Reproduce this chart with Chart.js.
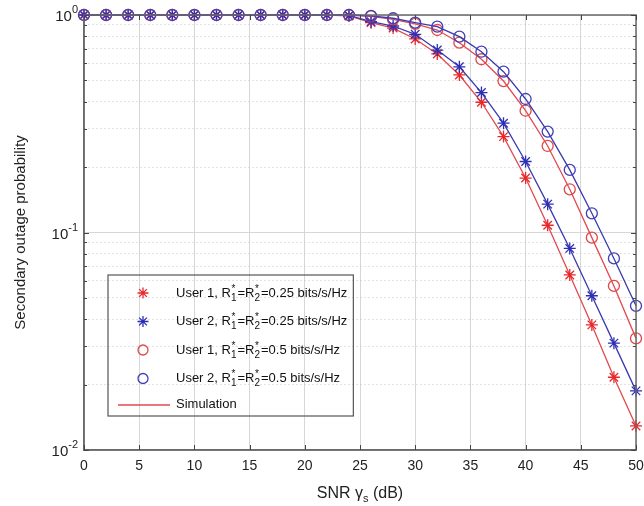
<!DOCTYPE html>
<html>
<head>
<meta charset="utf-8">
<script src="https://cdn.jsdelivr.net/npm/chart.js@4.4.1/dist/chart.umd.min.js"></script>
<style>
  html, body { margin: 0; padding: 0; background: #fff; }
  #wrap { width: 644px; height: 506px; }
</style>
</head>
<body>
<div id="wrap"><canvas id="outage-graph"></canvas></div>
<script>
const CTX = document.getElementById('outage-graph');

// SNR in dB (markers every 2 dB)
const snr = [0, 2, 4, 6, 8, 10, 12, 14, 16, 18, 20, 22, 24, 26, 28, 30, 32, 34, 36, 38, 40, 42, 44, 46, 48, 50];

// secondary outage probability
const user1Low = [1, 1, 1, 1, 1, 1, 1, 1, 1, 1, 1, 1, 0.99, 0.922, 0.871, 0.776, 0.662, 0.53, 0.397, 0.276, 0.178, 0.108, 0.0638, 0.0376, 0.0216, 0.0129];
const user2Low = [1, 1, 1, 1, 1, 1, 1, 1, 1, 1, 1, 1, 0.995, 0.932, 0.89, 0.815, 0.69, 0.578, 0.44, 0.318, 0.212, 0.135, 0.0845, 0.0512, 0.031, 0.0187];
const user1High = [1, 1, 1, 1, 1, 1, 1, 1, 1, 1, 1, 1, 1, 0.985, 0.955, 0.91, 0.853, 0.746, 0.626, 0.497, 0.363, 0.25, 0.158, 0.0947, 0.0568, 0.0326];
const user2High = [1, 1, 1, 1, 1, 1, 1, 1, 1, 1, 1, 1, 1, 0.99, 0.966, 0.922, 0.884, 0.795, 0.678, 0.549, 0.411, 0.291, 0.194, 0.1225, 0.076, 0.046];

const yDecades = [0.01, 0.1, 1];
const yTickLabels = [['10', '-2'], ['10', '-1'], ['10', '0']];
const xTicks = [0, 5, 10, 15, 20, 25, 30, 35, 40, 45, 50];

const RED = '#e8282c';
const RED_LINE = '#e04a50';
const BLUE = '#2f2fb4';
const BLUE_LINE = '#3a3ab0';
const FONT = '"Liberation Sans", Arial, Helvetica, sans-serif';

const legendRows = [
  { marker: 'star', color: RED, user: '1', rate: '0.25' },
  { marker: 'star', color: BLUE, user: '2', rate: '0.25' },
  { marker: 'circle', color: '#e04848', user: '1', rate: '0.5' },
  { marker: 'circle', color: '#4040b8', user: '2', rate: '0.5' }
];

function pts(arr) {
  return snr.map((x, i) => ({ x: x, y: arr[i] }));
}

function isDecade(v) {
  const l = Math.log10(v);
  return Math.abs(l - Math.round(l)) < 1e-9;
}

function drawStar(c, x, y, r, color) {
  c.save();
  c.strokeStyle = color;
  c.lineWidth = 1.3;
  c.beginPath();
  for (let k = 0; k < 4; k++) {
    const a = k * Math.PI / 4;
    c.moveTo(x - r * Math.cos(a), y - r * Math.sin(a));
    c.lineTo(x + r * Math.cos(a), y + r * Math.sin(a));
  }
  c.stroke();
  c.restore();
}

function drawCircle(c, x, y, r, color) {
  c.save();
  c.strokeStyle = color;
  c.lineWidth = 1.3;
  c.beginPath();
  c.arc(x, y, r, 0, Math.PI * 2);
  c.stroke();
  c.restore();
}

// text pieces: [string, kind] kind = n (normal) or s (subscript with * above)
function drawRich(c, x, y, parts, size) {
  let cx = x;
  const small = Math.round(size * 0.75);
  parts.forEach(p => {
    if (p[1] === 'n') {
      c.font = size + 'px ' + FONT;
      c.fillText(p[0], cx, y);
      cx += c.measureText(p[0]).width;
    } else {
      c.font = small + 'px ' + FONT;
      c.fillText(p[0], cx, y + size * 0.38);
      c.fillText('*', cx + 0.5, y - size * 0.3);
      cx += c.measureText(p[0]).width + 1;
    }
  });
  return cx - x;
}

const matlabLook = {
  id: 'matlabLook',
  afterDraw(chart) {
    const c = chart.ctx;
    const a = chart.chartArea;
    const xs = chart.scales.x;
    const ys = chart.scales.y;

    c.save();
    // frame
    c.strokeStyle = '#6a6a6a';
    c.lineWidth = 1.5;
    c.strokeRect(a.left, a.top, a.right - a.left, a.bottom - a.top);

    // inward ticks
    c.lineWidth = 1;
    c.strokeStyle = '#444';
    c.beginPath();
    xTicks.forEach(v => {
      const px = Math.round(xs.getPixelForValue(v)) + 0.5;
      c.moveTo(px, a.bottom); c.lineTo(px, a.bottom - 5);
      c.moveTo(px, a.top); c.lineTo(px, a.top + 5);
    });
    ys.ticks.forEach(t => {
      const py = Math.round(ys.getPixelForValue(t.value)) + 0.5;
      const len = isDecade(t.value) ? 5 : 3;
      c.moveTo(a.left, py); c.lineTo(a.left + len, py);
      c.moveTo(a.right, py); c.lineTo(a.right - len, py);
    });
    c.stroke();

    // y tick labels with superscript exponent
    c.fillStyle = '#222';
    c.textBaseline = 'middle';
    yDecades.forEach((v, i) => {
      const py = ys.getPixelForValue(v);
      const base = yTickLabels[i][0];
      const exp = yTickLabels[i][1];
      c.font = '11px ' + FONT;
      const ew = c.measureText(exp).width;
      c.font = '15px ' + FONT;
      const bw = c.measureText(base).width;
      const right = a.left - 6;
      c.fillText(base, right - ew - bw, py + 2);
      c.font = '11px ' + FONT;
      c.fillText(exp, right - ew, py - 5);
    });

    // x axis title: SNR γs (dB)
    c.textBaseline = 'alphabetic';
    c.font = '16px ' + FONT;
    const t1 = 'SNR \u03b3';
    const t3 = ' (dB)';
    const w1 = c.measureText(t1).width;
    const w3 = c.measureText(t3).width;
    c.font = '11px ' + FONT;
    const w2 = c.measureText('s').width;
    const mid = (a.left + a.right) / 2;
    let tx = mid - (w1 + w2 + w3) / 2;
    const ty = 498;
    c.font = '16px ' + FONT;
    c.fillText(t1, tx, ty);
    tx += w1;
    c.font = '11px ' + FONT;
    c.fillText('s', tx, ty + 4);
    tx += w2;
    c.font = '16px ' + FONT;
    c.fillText(t3, tx, ty);

    // legend
    const lx = a.left + 24;
    const ly = 275;
    const rowH = 28.5;
    const textX = lx + 68;
    let maxW = 0;
    c.textBaseline = 'middle';
    legendRows.forEach((r, i) => {
      const y = ly + 18 + i * rowH;
      c.fillStyle = '#111';
      const w = drawRich(c, textX, y, [
        ['User ' + r.user + ', R', 'n'], ['1', 's'], ['=R', 'n'], ['2', 's'], ['=' + r.rate + ' bits/s/Hz', 'n']
      ], 13);
      maxW = Math.max(maxW, w);
      if (r.marker === 'star') drawStar(c, lx + 35, y, 5.5, r.color);
      else drawCircle(c, lx + 35, y, 5, r.color);
    });
    const simY = ly + 18 + 4 * rowH - 3;
    c.font = '13px ' + FONT;
    c.fillStyle = '#111';
    c.fillText('Simulation', textX, simY);
    c.strokeStyle = RED_LINE;
    c.lineWidth = 1.3;
    c.beginPath();
    c.moveTo(lx + 10, simY + 1); c.lineTo(lx + 62, simY + 1);
    c.stroke();
    c.strokeStyle = '#555';
    c.lineWidth = 1.2;
    c.strokeRect(lx, ly, textX - lx + maxW + 6, simY + 12 - ly);
    c.restore();
  }
};

function series(label, data, color, lineColor, style, order) {
  return {
    label: label,
    data: pts(data),
    borderColor: lineColor,
    borderWidth: 1.3,
    pointStyle: style,
    pointRadius: style === 'star' ? 6 : 5.5,
    pointBorderColor: color,
    pointBackgroundColor: 'rgba(0,0,0,0)',
    pointBorderWidth: 1.3,
    tension: 0,
    clip: false,
    order: order
  };
}

new Chart(CTX, {
  type: 'line',
  data: {
    datasets: [
      series('User 1, R=0.25', user1Low, RED, RED_LINE, 'star', 3),
      series('User 2, R=0.25', user2Low, BLUE, BLUE_LINE, 'star', 2),
      series('User 1, R=0.5', user1High, '#e04848', RED_LINE, 'circle', 1),
      series('User 2, R=0.5', user2High, '#4040b8', BLUE_LINE, 'circle', 0)
    ]
  },
  plugins: [matlabLook],
  options: {
    responsive: true,
    maintainAspectRatio: false,
    animation: false,
    layout: { padding: { top: 15, right: 8, left: 0, bottom: 0 } },
    plugins: {
      legend: { display: false },
      tooltip: { enabled: false }
    },
    scales: {
      x: {
        type: 'linear',
        min: 0,
        max: 50,
        afterBuildTicks: (scale) => { scale.ticks = xTicks.map(v => ({ value: v })); },
        afterFit: (scale) => {
          scale.height = 56;
          scale.paddingLeft = 0;
          scale.paddingRight = 0;
        },
        ticks: {
          color: '#222',
          padding: 8,
          font: { family: FONT, size: 14 },
          maxRotation: 0
        },
        grid: { color: '#d6d6d6', lineWidth: 1, drawTicks: false },
        border: { color: '#6a6a6a', width: 1.5 }
      },
      y: {
        type: 'logarithmic',
        min: 0.01,
        max: 1,
        afterBuildTicks: (scale) => {
          const t = [];
          for (let d = 0; d < yDecades.length - 1; d++) {
            for (let k = 1; k < 10; k++) t.push({ value: k * yDecades[d] });
          }
          t.push({ value: yDecades[yDecades.length - 1] });
          scale.ticks = t;
        },
        afterFit: (scale) => {
          scale.width = 84;
          scale.paddingTop = 0;
          scale.paddingBottom = 0;
        },
        ticks: { display: false, autoSkip: false },
        grid: {
          drawTicks: false,
          color: (ctx) => (ctx.tick && isDecade(ctx.tick.value)) ? '#d6d6d6' : '#c4c4c4'
        },
        border: {
          color: '#6a6a6a',
          width: 1.5,
          dash: (ctx) => (ctx.tick && isDecade(ctx.tick.value)) ? [] : [1, 3]
        },
        title: {
          display: true,
          text: 'Secondary outage probability',
          color: '#222',
          font: { family: FONT, size: 15 },
          padding: { top: 12, bottom: 0 }
        }
      }
    }
  }
});
</script>
</body>
</html>
